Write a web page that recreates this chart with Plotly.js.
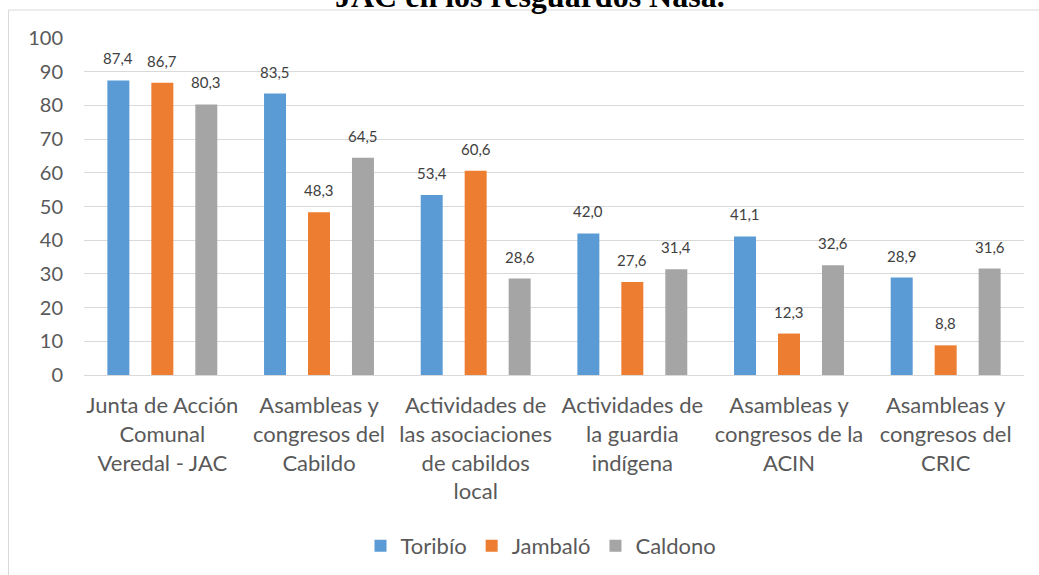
<!DOCTYPE html>
<html><head><meta charset="utf-8">
<script src="https://cdn.plot.ly/plotly-3.0.1.min.js"></script>
<style>html,body{margin:0;padding:0;background:#fff;}#chart{width:1039px;height:575px;}</style>
</head><body><div id="chart"></div>
<script>
const categories = [
  "Junta de Acción<br>Comunal<br>Veredal - JAC",
  "Asambleas y<br>congresos del<br>Cabildo",
  "Actividades de<br>las asociaciones<br>de cabildos<br>local",
  "Actividades de<br>la guardia<br>indígena",
  "Asambleas y<br>congresos de la<br>ACIN",
  "Asambleas y<br>congresos del<br>CRIC"
];
const toribio = [87.4, 83.5, 53.4, 42.0, 41.1, 28.9];
const jambalo = [86.7, 48.3, 60.6, 27.6, 12.3, 8.8];
const caldono = [80.3, 64.5, 28.6, 31.4, 32.6, 31.6];
const seriesNames = ["Toribío", "Jambaló", "Caldono"];
const colors = ["#5B9BD5", "#ED7D31", "#A5A5A5"];
const yTicks = [0,10,20,30,40,50,60,70,80,90,100];

const F = "Lato, 'Open Sans', sans-serif";
const allSeries = [toribio, jambalo, caldono];
const data = allSeries.map((y, i) => ({
  type: 'bar', x: categories, y: y, name: seriesNames[i],
  marker: {color: colors[i]}, hoverinfo: 'none'
}));

const fmt = v => v.toFixed(1).replace('.', ',');
const slotShift = [-44, 0, 44];
const labelAnns = [];
allSeries.forEach((ys, i) => ys.forEach((v, j) => labelAnns.push({
  x: categories[j], y: v, xref: 'x', yref: 'y', text: fmt(v), showarrow: false,
  xanchor: 'center', yanchor: 'bottom', xshift: slotShift[i], yshift: 11,
  font: {family: F, size: 15, color: '#404040'}
})));

const layout = {
  width: 1039, height: 575,
  margin: {l: 84, r: 15, t: 38, b: 200, autoexpand: false},
  barmode: 'group', bargap: 0.158, bargroupgap: 0.5,
  paper_bgcolor: '#fff', plot_bgcolor: '#fff',
  font: {family: F, color: '#595959', size: 20},
  xaxis: {tickfont: {family: F, size: 22, color: '#595959'}, showline: true, linecolor: '#D9D9D9', linewidth: 1,
          ticks: '', automargin: false, ticklabelstandoff: 11},
  yaxis: {range: [0, 100], tickvals: yTicks, ticktext: yTicks.map(String), gridcolor: '#D9D9D9', zeroline: false,
          tickfont: {family: F, size: 20, color: '#595959'}, ticklabelstandoff: 20, automargin: false},
  showlegend: true,
  legend: {orientation: 'h', x: 0.5 - 13/940, xanchor: 'center', y: -0.507, yanchor: 'middle',
           font: {family: F, size: 22, color: '#595959'}, itemwidth: 30, traceorder: 'normal'},
  shapes: [
    {type: 'line', xref: 'paper', yref: 'paper', x0: -0.0803, x1: -0.0803, y0: 1.083, y1: -1, line: {color: '#D9D9D9', width: 1}},
    {type: 'line', xref: 'paper', yref: 'paper', x0: -0.0803, x1: 1.1, y0: 1.083, y1: 1.083, line: {color: '#D9D9D9', width: 1}}
  ],
  annotations: labelAnns.concat([
    {text: '<b>JAC en los resguardos Nasa.</b>', xref: 'paper', yref: 'paper', x: (530-84)/940, y: 1 + (38 + 4)/337,
     xanchor: 'center', yanchor: 'middle', showarrow: false,
     font: {family: "'Liberation Serif', 'Times New Roman', serif", size: 32, color: '#000'}}
  ])
};
Plotly.newPlot('chart', data, layout, {displayModeBar: false, staticPlot: true});
</script></body></html>
